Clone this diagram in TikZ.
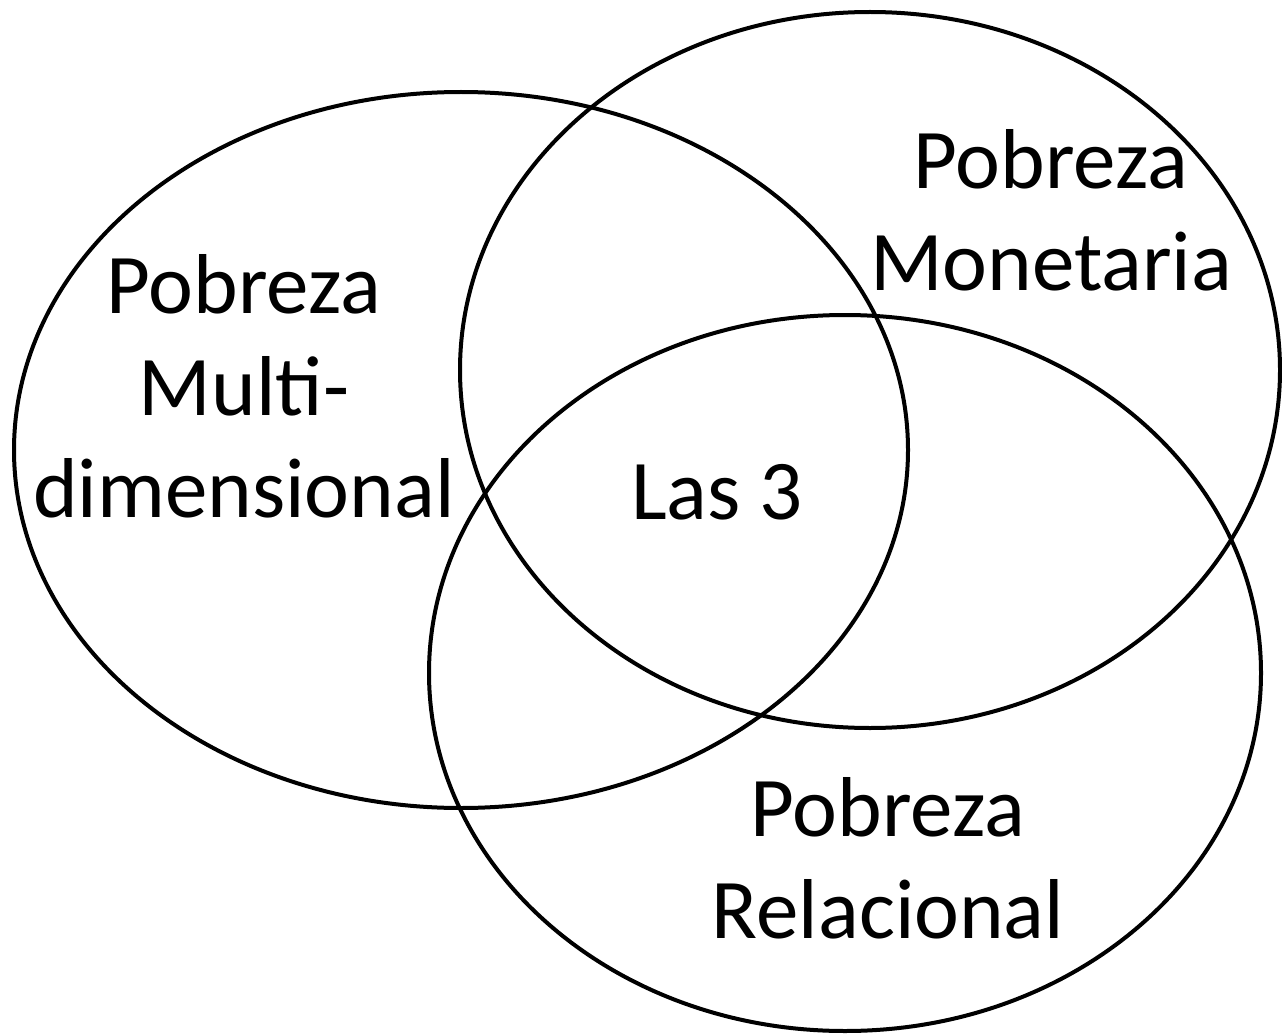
\documentclass[tikz,border=0pt]{standalone}
\usepackage{fontspec}
\setmainfont{Carlito}
\begin{document}
\begin{tikzpicture}[x=1pt,y=-1pt,
  ring/.style={draw=black,line width=4pt},
  lbl/.style={align=center,font=\fontsize{85}{102}\selectfont,inner sep=0pt}]
\useasboundingbox (0,0) rectangle (1282,1035);
\draw[ring] (461,450) ellipse [x radius=447, y radius=358];
\draw[ring] (870,370) ellipse [x radius=410, y radius=358];
\draw[ring] (845,673) ellipse [x radius=416, y radius=358];
\node[lbl] (mon) at (1051,210) {Pobreza\\Monetaria};
\node[lbl] (mul) at (244,386) {Pobreza\\Multi-\\dimensional};
\node[lbl] (las) at (717,492) {Las 3};
\node[lbl] (rel) at (888,858) {Pobreza\\Relacional};
\end{tikzpicture}
\end{document}
